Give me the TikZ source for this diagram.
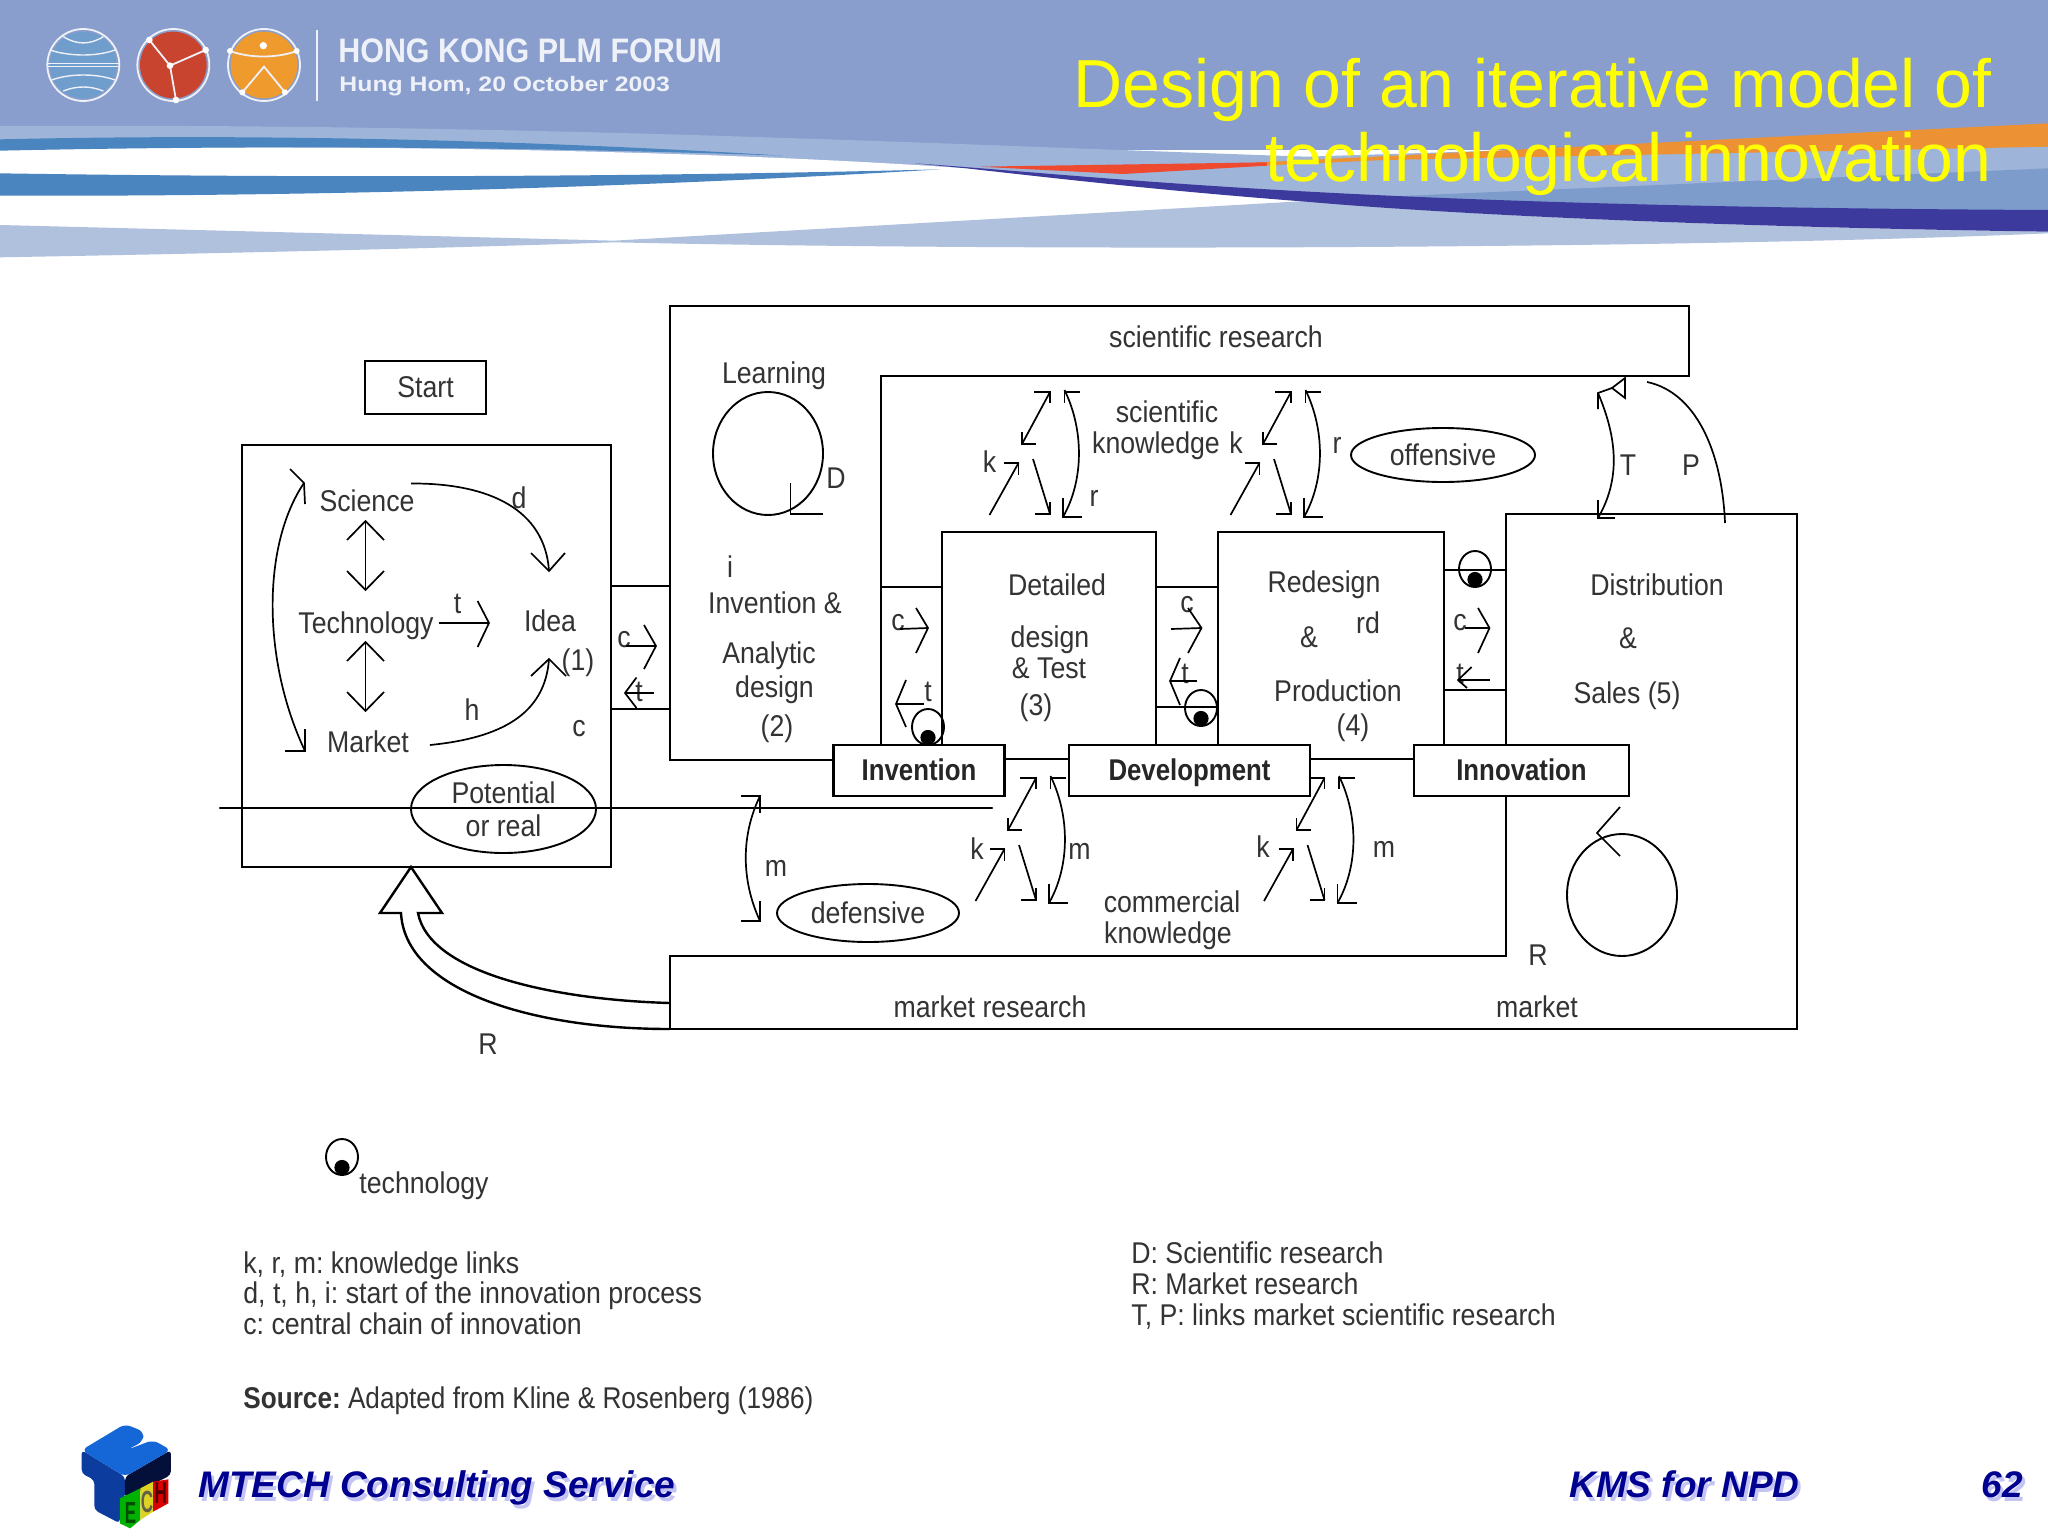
\documentclass[tikz,border=0pt]{standalone}
\usepackage{fontspec}
\setmainfont{Liberation Sans}
\usetikzlibrary{shapes.geometric}
\definecolor{ink}{HTML}{333333}
\definecolor{bantop}{HTML}{8A9ECD}
\definecolor{banlight}{HTML}{9FB4D9}
\definecolor{banwedge}{HTML}{B0C1DE}
\definecolor{banstripe}{HTML}{4B85C0}
\definecolor{banright}{HTML}{7D9CCB}
\definecolor{bandark}{HTML}{3C3A9C}
\definecolor{banred}{HTML}{EE4A30}
\definecolor{banorange}{HTML}{EC9234}
\definecolor{navy}{HTML}{000090}
\definecolor{lav}{HTML}{C4C4F4}
\definecolor{headw}{HTML}{EEF1F8}
\definecolor{titley}{HTML}{FFFF00}
\definecolor{globeb}{HTML}{6F9DCC}
\definecolor{glober}{HTML}{C9442E}
\definecolor{globeo}{HTML}{EF9A2C}
\definecolor{cubetop}{HTML}{1566D6}
\definecolor{cubeleft}{HTML}{0B3C9E}
\definecolor{cuberight}{HTML}{04103A}
\tikzset{
  ln/.style={line width=1.2pt,line cap=round,line join=miter},
  ar/.style={line width=.85pt,line join=miter},
  txt/.style={font=\fontsize{15}{18}\selectfont,text=ink,xscale=.89,inner sep=0pt,anchor=base},
  boxn/.style={draw,line width=1.2pt,rectangle,inner sep=0pt,outer sep=0pt},
  tagn/.style={boxn,fill=white,font=\fontsize{15}{18}\selectfont\bfseries,text=black!85,
     minimum height=25.5pt,text height=10.7pt,text depth=1pt},
  elln/.style={draw,ellipse,line width=.95pt,inner sep=0pt,outer sep=0pt,font=\fontsize{15}{16.5}\selectfont,text=ink,align=center},
  foot/.style={font=\fontsize{18.5}{20}\selectfont\bfseries\itshape,text=navy,inner sep=0pt,anchor=base west},
  footsh/.style={foot,text=lav},
}
\newcommand\lb[3]{\node[txt] (#1) at (#2) {#3};}
\newcommand\krgroup{%
  \draw[ar] (1034,392)--(1050,392)--(1050,403);
  \draw[ar] (1050,392)--(1022,444);
  \draw[ar] (1022,432)--(1022,444)--(1036,444);
  \draw[ar] (989.5,515)--(1018.5,463);
  \draw[ar] (1004,463)--(1018.5,463)--(1018.5,475);
  \draw[ar] (1033,459)--(1050,514);
  \draw[ar] (1035,514)--(1050,514)--(1050,502);
  \draw[ar] (1064.5,390) .. controls (1084,430) and (1084,480) .. (1063,517);
  \draw[ar] (1080,392)--(1064.5,392)--(1064.5,403);
  \draw[ar] (1082,517)--(1063,517)--(1063,498);
}
\newcommand\techsym[3]{% name, centre x, centre y
  \node[draw,ellipse,line width=.95pt,inner sep=0pt,minimum width=16pt,minimum height=18pt] (#1) at (#2,#3) {};
  \fill (#2,#3) ++(0,10.5) circle[radius=3.8pt];
}
\begin{document}
\frenchspacing
\begin{tikzpicture}[x=.5pt,y=-.5pt]
\useasboundingbox (0,0) rectangle (2048,1536);
\fill[white] (0,0) rectangle (2048,1536);

% ---------- banner (coordinates of a 1568 x 840 working grid)
\begin{scope}[xscale=1.30612,yscale=.33333]
  \fill[bantop] (0,0) rectangle (1568,450);
  \fill[banlight] (0,378) .. controls (400,370) and (700,430) .. (1000,470) -- (1568,400)
     -- (1568,640) -- (1000,605) -- (740,505) -- (0,450) -- cycle;
  \fill[white] (0,448) .. controls (200,435) and (500,440) .. (740,505)
     .. controls (830,545) and (900,575) .. (1000,605) -- (470,725) -- (0,675) -- cycle;
  \fill[banwedge] (0,675) -- (470,722) -- (1000,603) .. controls (1100,640) and (1300,680) .. (1568,695)
     -- (1568,700) .. controls (1300,745) and (800,755) .. (470,727)
     .. controls (300,750) and (100,765) .. (0,772) -- cycle;
  \fill[banstripe] (0,418) .. controls (200,400) and (400,420) .. (600,467)
     .. controls (400,440) and (200,435) .. (0,452) -- cycle;
  \fill[banstripe] (0,520) .. controls (250,535) and (500,530) .. (720,508)
     .. controls (500,560) and (250,590) .. (0,587) -- cycle;
  \fill[banright] (1060,590) -- (1568,505) -- (1568,632) -- (1200,625) -- cycle;
  \fill[bandark] (700,490) .. controls (850,530) and (1020,620) .. (1568,630)
     -- (1568,695) .. controls (1300,680) and (1100,640) .. (1000,605)
     .. controls (900,575) and (830,545) .. (740,505) -- cycle;
  \fill[banorange] (960,488) -- (1568,370) -- (1568,440) -- (1060,480) -- (960,498) -- cycle;
  \fill[banred] (750,500) -- (970,487) -- (970,497) -- (860,522) -- cycle;
\end{scope}

% ---------- forum logo
\begin{scope}[shift={(30,15)},xscale=.33333,yscale=.33333]
  \fill[globeb] (160,150) circle[radius=50pt];
  \draw[headw,line width=.9pt] (160,150) circle[radius=54pt];
  \draw[headw,line width=.7pt] (100,65) .. controls (140,90) and (180,90) .. (220,65);
  \draw[headw,line width=.7pt] (60,105) .. controls (120,125) and (200,125) .. (255,105);
  \draw[headw,line width=.7pt] (52,146) -- (268,146) (52,154) -- (268,154);
  \draw[headw,line width=.7pt] (65,195) .. controls (120,175) and (200,175) .. (255,195);
  \draw[headw,line width=.7pt] (100,228) .. controls (140,212) and (180,212) .. (220,228);
  \fill[glober] (430,150) circle[radius=50pt];
  \draw[headw,line width=.9pt] (430,150) circle[radius=54pt];
  \draw[headw,line width=.9pt] (358,75) -- (420,152) -- (527,105) (420,152) -- (438,255);
  \foreach \q in {(358,75),(527,105),(420,152),(438,255)} \fill[white] \q circle[radius=5pt];
  \fill[globeo] (702,150) circle[radius=50pt];
  \draw[headw,line width=.9pt] (702,150) circle[radius=54pt];
  \fill[white] (700,92) circle[radius=5.5pt];
  \draw[headw,line width=.9pt] (600,108) .. controls (660,130) and (740,130) .. (800,108);
  \draw[headw,line width=.9pt] (637,232) -- (702,155) -- (765,232);
  \foreach \q in {(600,108),(800,108),(637,232),(765,232)} \fill[white] \q circle[radius=4.5pt];
\end{scope}
\draw[headw,line width=.8pt] (317,30) -- (317,101);
\node[inner sep=0pt,anchor=base west,text=headw,font=\fontsize{17}{18}\selectfont\bfseries,xscale=.895] (forum) at (338,63) {HONG KONG PLM FORUM};
\node[inner sep=0pt,anchor=base west,text=headw,font=\fontsize{10.5}{12}\selectfont\bfseries,xscale=1.18] (forumdate) at (339,91) {Hung Hom, 20 October 2003};
\node[inner sep=0pt,anchor=north east,align=right,text=titley,font=\fontsize{34}{37}\selectfont] (title) at (1992,58) {Design of an iterative model of\\technological innovation};

% ---------- named corners of the outlines
\coordinate (rtl) at (670,306);
\coordinate (rtr) at (1689,306);
\coordinate (rbr) at (1689,376);
\coordinate (ibl) at (881,376);
\coordinate (rbl) at (670,760);
\coordinate (mtl) at (670,956);
\coordinate (mtr) at (1506,956);
\coordinate (dtl) at (1506,514);
\coordinate (dtr) at (1797,514);
\coordinate (dbr) at (1797,1029);
\coordinate (mbl) at (670,1029);
\coordinate (lineL) at (220,808);
\coordinate (lineR) at (992,808);

% ---------- boxes
\node[boxn,minimum width=60.5pt,minimum height=26.5pt,font=\fontsize{15}{18}\selectfont,text=ink] (start) at (425.5,387.5) {\scalebox{.89}[1]{Start}};
\node[boxn,minimum width=184.5pt,minimum height=211pt] (leftbox) at (426.5,656) {};
\node[boxn,minimum width=107pt,minimum height=113.5pt] (detbox) at (1049,645.5) {};
\node[boxn,minimum width=113pt,minimum height=113.5pt] (redbox) at (1331,645.5) {};
\draw[ln] (mtl) -- (mtr) -- (dtl) -- (dtr) -- (dbr) -- (mbl) -- cycle;

\node[tagn,minimum width=85.5pt] (invbox) at (919,770.5) {\scalebox{.86}[1]{Invention}};
\node[tagn,minimum width=120.5pt] (devbox) at (1189.5,770.5) {\scalebox{.86}[1]{Development}};
\node[tagn,minimum width=107.5pt] (innbox) at (1521.5,770.5) {\scalebox{.86}[1]{Innovation}};
\draw[ln] (rbl -| invbox.west) -- (rbl) -- (rtl) -- (rtr) -- (rbr) -- (ibl) -- (ibl |- invbox.north);

\draw[ln] (leftbox.east |- 0,586) -- (rtl |- 0,586);
\draw[ln] (leftbox.east |- 0,709) -- (rtl |- 0,709);
\draw[ln] (ibl |- 0,587) -- (detbox.west |- 0,587);
\draw[ln] (detbox.east |- 0,587) -- (redbox.west |- 0,587);
\draw[ln] (detbox.east |- 0,707) -- (redbox.west |- 0,707);
\draw[ln] (redbox.east |- 0,570) -- (dtl |- 0,570);
\draw[line width=.9pt] (redbox.east |- 0,690) -- (dtl |- 0,690);
\draw[ln] (lineL) -- (lineR);

% ---------- ellipses
\node[elln,minimum width=92.5pt,minimum height=44pt] (potential) at (503.5,809) {\scalebox{.89}[1]{Potential}\\\scalebox{.89}[1]{or real}};
\node[elln,minimum width=92pt,minimum height=27pt] (offensive) at (1443,455) {\scalebox{.89}[1]{offensive}};
\node[elln,minimum width=91pt,minimum height=29pt] (defensive) at (868,913) {\scalebox{.89}[1]{defensive}};
\node[elln,minimum width=55pt,minimum height=61.5pt] (learnloop) at (768,453.5) {};
\node[elln,minimum width=55pt,minimum height=61pt] (marketloop) at (1622,895) {};

% ---------- labels, left box
\lb{science}{367,511}{Science}
\lb{technology}{366,633}{Technology}
\lb{market}{368,752}{Market}
\lb{idea}{550,631}{Idea}
\lb{one}{578,670}{(1)}
\lb{ld}{519,508}{d}
\lb{lt}{457.5,613}{t}
\lb{lh}{472,720}{h}
\lb{lc}{579,736}{c}
\lb{gc}{624,647}{c}
\lb{gt}{639,701}{t}
% labels, invention and analytic design
\lb{learning}{774,383}{Learning}
\lb{bigd}{836,488}{D}
\lb{li}{730,577}{i}
\lb{inventamp}{775,613}{Invention \&}
\lb{analytic}{769,663}{Analytic}
\lb{designa}{774.5,697}{design}
\lb{two}{777,736}{(2)}
\lb{sciresearch}{1216,347}{scientific research}
% labels, detailed design
\lb{scientific}{1167,422}{scientific}
\lb{knowledgeu}{1156,453}{knowledge}
\lb{ku}{1236,453}{k}
\lb{kl}{989.5,472}{k}
\lb{ru}{1094,506}{r}
\lb{rv}{1337,453}{r}
\lb{detailed}{1057,595}{Detailed}
\lb{designd}{1050,647}{design}
\lb{andtest}{1049,678}{\& Test}
\lb{three}{1036,715}{(3)}
\lb{redesign}{1324,592}{Redesign}
\lb{rd}{1368,633}{rd}
\lb{ampr}{1309,647}{\&}
\lb{production}{1338,701}{Production}
\lb{four}{1353,735}{(4)}
\lb{ca}{898,630}{c}
\lb{ta}{928,701}{t}
\lb{cb}{1187,612}{c}
\lb{tb}{1185,683}{t}
\lb{cc}{1460,630}{c}
\lb{tc}{1460,683}{t}
% labels, distribution
\lb{distribution}{1657,595}{Distribution}
\lb{ampd}{1628,648}{\&}
\lb{sales}{1627,703}{Sales (5)}
\lb{bigt}{1628,475}{T}
\lb{bigp}{1691,475}{P}
\lb{rm}{1538,965}{R}
\lb{marketw}{1537,1017}{market}
% labels, lower band
\lb{ml}{776,876}{m}
\lb{kd}{977,859}{k}
\lb{md}{1079.5,859}{m}
\lb{commercial}{1172,912}{commercial}
\lb{knowledgel}{1168,943}{knowledge}
\lb{ke}{1263,857}{k}
\lb{me}{1384,857}{m}
\lb{marketres}{990,1017}{market research}
\lb{rbig}{488,1054}{R}

% ---------- arrows, left box
\draw[ar] (304,483) .. controls (262,545) and (262,660) .. (305,751);
\draw[ar] (290,469)--(304,483)--(305,504);
\draw[ar] (305,729)--(305,751)--(285,751);
\draw[ar] (365.5,521)--(365.5,590);
\draw[ar] (347,540)--(365.5,521)--(384,540);
\draw[ar] (347,571)--(365.5,590)--(384,571);
\draw[ar] (365.5,642)--(365.5,711);
\draw[ar] (347,661)--(365.5,642)--(384,661);
\draw[ar] (347,692)--(365.5,711)--(384,692);
\draw[ar] (439,623)--(489,623);
\draw[ar] (477.6,601)--(489,623)--(477.6,647);
\draw[ar] (411,483.5) .. controls (490,483) and (545,510) .. (549,571);
\draw[ar] (531,553)--(549,571)--(565,553);
\draw[ar] (430,745) .. controls (500,738) and (545,715) .. (549,659);
\draw[ar] (531,676)--(549,659)--(566,676);
\draw[ar] (626,646)--(656,646);
\draw[ar] (644,625)--(656,646)--(644,669);
\draw[ar] (654,693)--(625,693);
\draw[ar] (636.5,677.5)--(625,693)--(636.5,708);
% ---------- arrows, loops and gaps
\draw[ar] (790.5,483)--(790.5,514)--(823,514);
\draw[ar] (1620,807)--(1597,833)--(1620,856);
\draw[ar] (760,796) .. controls (741,835) and (741,880) .. (760,921);
\draw[ar] (741,796)--(760,796)--(760,813);
\draw[ar] (741,921)--(760,921)--(760,901);
\draw[ar] (900,629)--(928,628);
\draw[ar] (916,608)--(928,628)--(916,653);
\draw[ar] (924,704)--(896,704);
\draw[ar] (906,680)--(896,704)--(906,727);
\draw[ar] (1171,629)--(1201.5,628);
\draw[ar] (1188,608)--(1201.5,628)--(1188,653);
\draw[ar] (1197,681)--(1170,681);
\draw[ar] (1180,658)--(1170,681)--(1180,705);
\draw[ar] (1465,628)--(1489.5,628);
\draw[ar] (1478,608)--(1489.5,628)--(1478,653);
\draw[ar] (1489.5,680)--(1458,680);
\draw[ar] (1471.6,667)--(1458,680)--(1467,688);
% ---------- knowledge-link groups
\krgroup
\begin{scope}[shift={(241,0)}]\krgroup\end{scope}
\begin{scope}[shift={(-14,386)}]\krgroup\end{scope}
\begin{scope}[shift={(274.5,386)}]\krgroup\end{scope}
% ---------- T and P
\draw[ar] (1598,393) .. controls (1618,440) and (1620,480) .. (1598,518);
\draw[ar] (1598,409)--(1598,393)--(1612,388);
\draw[ar] (1612,388)--(1625,378)--(1625,398)--cycle;
\draw[ar] (1598,500)--(1598,518)--(1615,518);
\draw[ar] (1647,382) .. controls (1695,392) and (1722,450) .. (1725,523);
% ---------- technology symbols
\techsym{techa}{928}{727}
\techsym{techb}{1201}{708}
\techsym{techc}{1475}{569}
\techsym{techleg}{342}{1157}
\lb{techlabel}{424,1193}{technology}
% ---------- big hollow R arrow
\draw[ln] (mtl |- 0,1003) .. controls (560,1000) and (430,975) .. (418,913)
   -- (442,913) -- (leftbox.south -| 411,0) -- (380,913) -- (401,913)
   .. controls (405,990) and (530,1029) .. (mbl);

% ---------- legends
\node[txt,anchor=base west,align=left,font=\fontsize{15}{15.25}\selectfont] (legendl) at (243,1334)
  {k, r, m: knowledge links\\d, t, h, i: start of the innovation process\\c: central chain of innovation};
\node[txt,anchor=base west,align=left,font=\fontsize{15}{15.5}\selectfont] (legendr) at (1131,1325)
  {D: Scientific research\\R: Market research\\T, P: links market scientific research};
\node[txt,anchor=base west,xscale=.98] (source) at (243,1408) {\textbf{Source:} Adapted from Kline \& Rosenberg (1986)};

% ---------- footer logo
\begin{scope}[shift={(0,1400)},xscale=.5102,yscale=.33333]
  \fill[cubeleft,rounded corners=2pt] (160,150) -- (245,230) -- (245,295) -- (235,295) -- (235,370) -- (185,330) -- (185,240) -- (160,220) -- cycle;
  \fill[cuberight,rounded corners=2pt] (245,230) -- (335,150) -- (335,225) -- (245,295) -- cycle;
  \fill[cubetop,rounded corners=3pt] (160,150) -- (245,72) -- (282,95) -- (280,125) -- (248,150) -- (300,120) -- (335,150) -- (245,230) -- cycle;
  \fill[green!70!black] (235,295) -- (275,265) -- (275,360) -- (255,385) -- (235,370) -- cycle;
  \fill[yellow!85!black] (275,265) -- (300,245) -- (300,335) -- (275,360) -- cycle;
  \fill[red!85!black] (300,245) -- (330,238) -- (330,310) -- (300,335) -- cycle;
  \node[inner sep=0pt,font=\fontsize{8.5}{9}\selectfont\bfseries,yscale=1.8,text=black!70!green] (logoE) at (256,340) {E};
  \node[inner sep=0pt,font=\fontsize{8.5}{9}\selectfont\bfseries,yscale=1.8,text=black!70!yellow] (logoC) at (288,305) {C};
  \node[inner sep=0pt,font=\fontsize{8.5}{9}\selectfont\bfseries,yscale=1.8,text=black!70!red] (logoH) at (315,280) {H};
\end{scope}
\node[footsh] (mtechsh) at (201,1501) {MTECH Consulting Service};
\node[foot] (mtech) at (198,1497) {MTECH Consulting Service};
\node[footsh] (kmssh) at (1572,1501) {KMS for NPD};
\node[foot] (kms) at (1569,1497) {KMS for NPD};
\node[footsh] (pagesh) at (1984,1501) {62};
\node[foot] (page) at (1981,1497) {62};
\end{tikzpicture}
\end{document}
